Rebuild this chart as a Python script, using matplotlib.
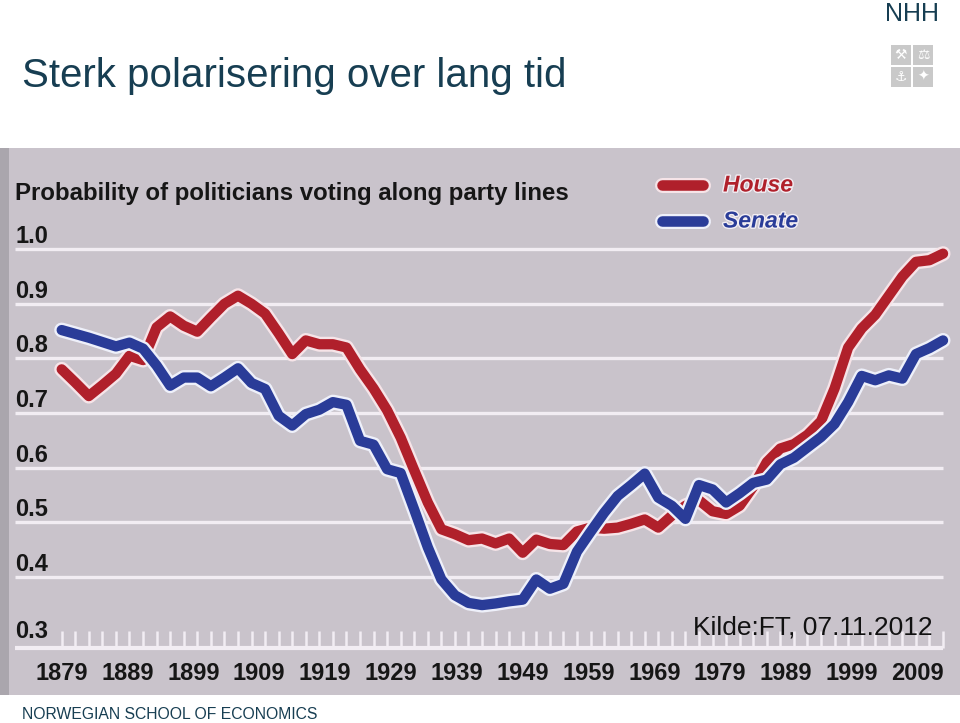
import matplotlib
matplotlib.use("Agg")
import matplotlib.pyplot as plt
import matplotlib.patheffects as pe
import matplotlib.transforms as mtransforms
from matplotlib.patches import Rectangle

# ---------------- data ----------------
years = list(range(1879, 2010, 2))
house = [0.780, 0.756, 0.731, 0.751, 0.772, 0.805, 0.797, 0.857, 0.877, 0.860,
         0.849, 0.875, 0.900, 0.915, 0.900, 0.882, 0.846, 0.808, 0.833, 0.826,
         0.826, 0.820, 0.780, 0.745, 0.705, 0.655, 0.595, 0.536, 0.487, 0.478,
         0.467, 0.470, 0.461, 0.470, 0.444, 0.468, 0.460, 0.458, 0.483, 0.490,
         0.488, 0.490, 0.497, 0.505, 0.490, 0.512, 0.530, 0.540, 0.520, 0.515,
         0.530, 0.565, 0.610, 0.635, 0.643, 0.660, 0.685, 0.745, 0.820, 0.855,
         0.880, 0.915, 0.950, 0.977, 0.980, 0.992]
senate = [0.852, 0.845, 0.838, 0.830, 0.822, 0.829, 0.818, 0.787, 0.750, 0.765,
          0.765, 0.749, 0.765, 0.782, 0.755, 0.744, 0.695, 0.677, 0.698, 0.706,
          0.720, 0.715, 0.649, 0.642, 0.597, 0.590, 0.523, 0.454, 0.395, 0.366,
          0.352, 0.348, 0.351, 0.355, 0.358, 0.395, 0.378, 0.387, 0.446, 0.482,
          0.517, 0.548, 0.568, 0.589, 0.545, 0.530, 0.506, 0.568, 0.560, 0.536,
          0.553, 0.572, 0.578, 0.606, 0.618, 0.637, 0.656, 0.680, 0.720, 0.768,
          0.760, 0.769, 0.763, 0.808, 0.819, 0.833]
series_names = ["House", "Senate"]
grid_values = [1.0, 0.9, 0.8, 0.7, 0.6, 0.5, 0.4]
grid_labels = ["1.0", "0.9", "0.8", "0.7", "0.6", "0.5", "0.4"]
baseline_value = 0.2688
baseline_label = "0.3"
decade_years = list(range(1879, 2010, 10))
decade_labels = [str(y) for y in decade_years]

title = "Sterk polarisering over lang tid"
chart_title = "Probability of politicians voting along party lines"
source = "Kilde:FT, 07.11.2012"
footer = "NORWEGIAN SCHOOL OF ECONOMICS"

# ---------------- style ----------------
RED = "#b0202b"
BLUE = "#2a3c98"
PANEL = "#c9c3cb"
GRID = "#f2edf3"
TEAL = "#173e52"
FONT = "Liberation Sans"
plt.rcParams["font.family"] = [FONT, "DejaVu Sans"]

W, H = 960, 723
fig = plt.figure(figsize=(W / 100, H / 100), dpi=100)
fig.patch.set_facecolor("white")

panel_top, panel_bottom = 148, 695
ax = fig.add_axes([0, 1 - panel_bottom / H, 1, (panel_bottom - panel_top) / H])
ax.set_facecolor(PANEL)
for s in ax.spines.values():
    s.set_visible(False)
ax.set_xticks([])
ax.set_yticks([])
ax.set_xlim(1869.9, 2011.5)
ax.set_ylim(0.1833, 1.1856)

# darker strip on left edge of the photographed panel
ax.add_patch(Rectangle((0, 0), 0.009, 1, transform=ax.transAxes,
                       facecolor="#aaa6ad", edgecolor="none", zorder=1))

x0, x1 = 1872.1, 2009.0
ax.hlines(grid_values, x0, x1, color=GRID, lw=2.4, zorder=2)
ax.hlines([baseline_value], x0, x1, color=GRID, lw=3.0, zorder=2)
ax.vlines(years, baseline_value, baseline_value + 0.031, color=GRID, lw=1.8, zorder=2)

# y labels (sit above each gridline)
for v, lab in zip(grid_values, grid_labels):
    ax.annotate(lab, xy=(0.016, v), xycoords=("axes fraction", "data"),
                xytext=(0, 4.3), textcoords="offset points",
                ha="left", va="baseline", fontsize=17, fontweight="bold",
                color="#161616", zorder=3)
ax.annotate(baseline_label, xy=(0.016, baseline_value),
            xycoords=("axes fraction", "data"),
            xytext=(0, 7.3), textcoords="offset points",
            ha="left", va="baseline", fontsize=17, fontweight="bold",
            color="#161616", zorder=3)

# x labels (the photographed labels are slightly compressed horizontally)
squeeze = 0.9712
blend = mtransforms.blended_transform_factory(ax.transData, ax.transAxes)
for yr, lab in zip(decade_years, decade_labels):
    ax.text(1879 + (yr - 1879) * squeeze, 0.040, lab, transform=blend,
            ha="center", va="center", fontsize=17, fontweight="bold",
            color="#161616", zorder=3)

# lines
halo_r = [pe.Stroke(linewidth=10.8, foreground="#f6e4e8"), pe.Normal()]
halo_b = [pe.Stroke(linewidth=10.8, foreground="#eef0fa"), pe.Normal()]
ax.plot(years, house, color=RED, lw=7.4, solid_capstyle="round",
        solid_joinstyle="round", path_effects=halo_r, zorder=4)
ax.plot(years, senate, color=BLUE, lw=7.4, solid_capstyle="round",
        solid_joinstyle="round", path_effects=halo_b, zorder=5)

# chart title
ax.text(15 / W, (panel_bottom - 200) / (panel_bottom - panel_top), chart_title,
        transform=ax.transAxes, ha="left", va="baseline", fontsize=17.3,
        fontweight="bold", color="#161616", zorder=3)

# legend (drawn by hand to match the broadcast style)
for name, col, halo, ypx in [(series_names[0], RED, halo_r, 185),
                             (series_names[1], BLUE, halo_b, 221)]:
    yf = (panel_bottom - ypx) / (panel_bottom - panel_top)
    ax.plot([662 / W, 703 / W], [yf, yf], transform=ax.transAxes, color=col,
            lw=7.6, solid_capstyle="round", path_effects=halo, zorder=6)
    ax.text(723 / W, yf, name, transform=ax.transAxes, ha="left", va="center",
            fontsize=16.5, fontweight="bold", fontstyle="italic", color=col,
            path_effects=[pe.Stroke(linewidth=2, foreground="#f3eef4"), pe.Normal()],
            zorder=6)

# source note
ax.text(693 / W, (panel_bottom - 627) / (panel_bottom - panel_top), source,
        transform=ax.transAxes, ha="left", va="center", fontsize=19,
        color="#111111", zorder=7)

# slide title, footer, logo
fig.text(22 / W, 1 - 87 / H, title, ha="left", va="baseline", fontsize=29,
         color=TEAL)
fig.text(22 / W, 1 - 719 / H, footer, ha="left", va="baseline", fontsize=11.3,
         color=TEAL)
fig.text(912 / W, 1 - 21 / H, "NHH", ha="center", va="baseline", fontsize=18,
         color=TEAL)
icons = ["\u2692", "\u2696", "\u2693", "\u2726"]
k = 0
for r in range(2):
    for c in range(2):
        xl = 891 + c * 22
        yt = 45 + r * 22
        fig.patches.append(Rectangle((xl / W, 1 - (yt + 20) / H), 20 / W, 20 / H,
                                     transform=fig.transFigure, facecolor="#c9c9c9",
                                     edgecolor="none"))
        fig.text((xl + 10) / W, 1 - (yt + 10) / H, icons[k], ha="center",
                 va="center", fontsize=10, color="white",
                 family=["DejaVu Sans"])
        k += 1

fig.savefig("out.png", dpi=100, facecolor="white")
